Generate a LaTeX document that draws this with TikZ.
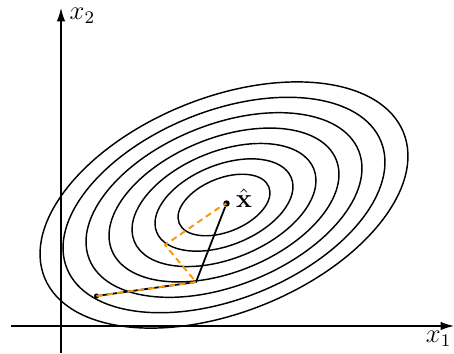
\documentclass[tikz,border=0pt]{standalone}
\usetikzlibrary{arrows.meta}
\definecolor{pathorange}{RGB}{250,150,0}
\begin{document}
\begin{tikzpicture}[x=0.45pt,y=0.45pt,
  lbl/.style={font=\fontsize{12}{14}\selectfont,inner sep=1pt},
  axis/.style={line width=0.6pt,-{Latex[length=6pt,width=3.8pt]}},
  contour/.style={line width=0.65pt},
  solidpath/.style={line width=0.8pt,black},
  dashpath/.style={line width=0.85pt,pathorange,dash pattern=on 2.8pt off 1.9pt},
  dot/.style={circle,fill=black,inner sep=0pt,minimum size=#1}]
\useasboundingbox (0,0) rectangle (454,353);
% axes
\coordinate (ybot) at (61,0);
\coordinate (ytop) at (61,345);
\coordinate (xl) at (11,27);
\coordinate (xr) at (454,27);
\draw[axis] (ybot) -- (ytop);
\draw[axis] (xl) -- (xr);
\node[lbl,anchor=west] (lx2) at (67,337) {$x_2$};
\node[lbl,anchor=east] (lx1) at (454,14) {$x_1$};
% contours
\coordinate (c) at (224,148);
\foreach \k in {2,...,8}{
  \draw[contour,rotate around={22:(c)}] (c) ellipse [x radius={24.2*\k}, y radius={13.41*\k}];
}
% points
\node[dot=2.3pt] (start) at (96.5,57) {};
\coordinate (corner) at (196,71);
\coordinate (d1) at (165,108);
\coordinate (d2) at (221.5,147);
\node[dot=2.9pt] (xhat) at (226.5,149.5) {};
\node[lbl] (lxhat) at (244,155) {$\hat{\mathbf{x}}$};
% paths
\draw[solidpath] (start) -- (corner) -- (xhat);
\draw[dashpath] (start.center) -- (corner) -- (d1) -- (d2) -- (xhat.center);
\end{tikzpicture}
\end{document}
